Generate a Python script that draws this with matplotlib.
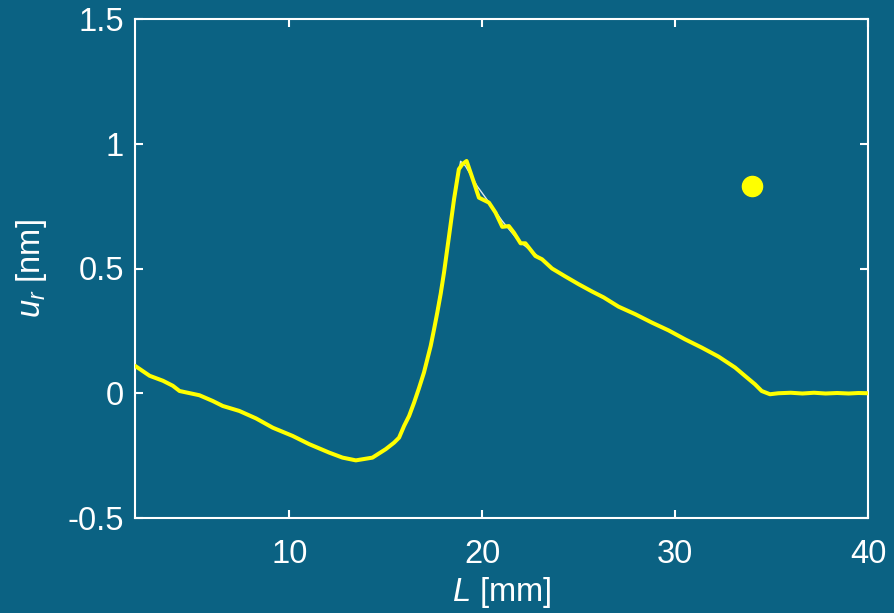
import matplotlib
matplotlib.use("Agg")
import matplotlib.pyplot as plt

plt.rcParams['font.family'] = ['Liberation Sans', 'DejaVu Sans']
plt.rcParams['mathtext.fontset'] = 'custom'
plt.rcParams['mathtext.it'] = 'Liberation Sans:italic'
plt.rcParams['mathtext.rm'] = 'Liberation Sans'

# Main (yellow) displacement curve
L_mm = [2.0, 2.76, 3.45, 3.96, 4.31, 5.34, 6.03, 6.55, 7.41, 8.28, 9.14, 10.17,
        11.03, 12.07, 12.76, 13.45, 14.31, 15.0, 15.43, 15.69, 15.95, 16.21,
        16.47, 16.72, 16.98, 17.15, 17.33, 17.5, 17.67, 17.85, 18.02, 18.28,
        18.54, 18.79, 18.97, 19.19, 19.57, 19.83, 20.35, 20.69, 21.04, 21.38,
        21.64, 21.99, 22.24, 22.76, 23.1, 23.62, 24.31, 25.0, 25.69, 26.3,
        27.07, 27.93, 28.8, 29.66, 30.52, 31.38, 32.25, 33.11, 33.63, 34.14,
        34.49, 34.92, 35.35, 36.0, 36.6, 37.2, 37.8, 38.4, 39.0, 39.5, 40.0]
u_r = [0.11, 0.07, 0.05, 0.03, 0.009, -0.008, -0.031, -0.051, -0.071, -0.101,
       -0.138, -0.171, -0.204, -0.238, -0.258, -0.269, -0.258, -0.224, -0.198,
       -0.178, -0.131, -0.091, -0.037, 0.02, 0.083, 0.135, 0.19, 0.255, 0.323,
       0.40, 0.484, 0.63, 0.778, 0.898, 0.918, 0.931, 0.845, 0.784, 0.764,
       0.724, 0.667, 0.67, 0.644, 0.601, 0.601, 0.55, 0.537, 0.5, 0.468, 0.437,
       0.408, 0.384, 0.347, 0.317, 0.283, 0.252, 0.216, 0.183, 0.147, 0.103,
       0.069, 0.036, 0.009, -0.004, 0.0, 0.002, -0.001, 0.002, -0.001, 0.001,
       -0.001, 0.001, 0.0]

# Thin white reference curve (visible only around the peak)
L_ref = [17.5, 18.0, 18.5, 18.88, 19.14, 19.74, 20.35, 21.04, 21.9, 22.8, 23.6]
u_ref = [0.26, 0.484, 0.74, 0.93, 0.91, 0.83, 0.765, 0.69, 0.61, 0.555, 0.5]

# Marker point
dot_L = [34.0]
dot_u = [0.83]

x_ticks = [10, 20, 30, 40]
y_ticks = [-0.5, 0, 0.5, 1, 1.5]
y_ticklabels = ['-0.5', '0', '0.5', '1', '1.5']

bg = '#0b6283'
fig = plt.figure(figsize=(8.95, 6.13), dpi=100, facecolor=bg)
ax = fig.add_axes([135/895, 1-518/613, (868-135)/895, (518-19)/613])
ax.set_facecolor(bg)

ax.plot(L_ref, u_ref, color='#dde8f0', lw=1.0, zorder=2)
ax.plot(L_mm, u_r, color='#ffff00', lw=2.9, zorder=3,
        solid_joinstyle='round', solid_capstyle='round')
ax.plot(dot_L, dot_u, 'o', color='#ffff00', ms=14.5, zorder=4)

ax.set_xlim(2, 40)
ax.set_ylim(-0.5, 1.5)
ax.set_xticks(x_ticks)
ax.set_xticklabels([str(t) for t in x_ticks])
ax.set_yticks(y_ticks)
ax.set_yticklabels(y_ticklabels)

for s in ax.spines.values():
    s.set_color('white')
    s.set_linewidth(1.5)

ax.tick_params(axis='both', direction='in', length=6, width=1.5, color='white',
               labelcolor='white', labelsize=23.5, top=True, right=True)
ax.tick_params(axis='x', pad=15)
ax.tick_params(axis='y', pad=8)

ax.set_xlabel('$L$ [mm]', color='white', fontsize=23.5)
ax.set_ylabel('$u_r$ [nm]', color='white', fontsize=23.5)
ax.xaxis.set_label_coords(0.5, -0.114)
ax.yaxis.set_label_coords(-0.118, 0.5)

fig.savefig('out.png', dpi=100, facecolor=bg)
